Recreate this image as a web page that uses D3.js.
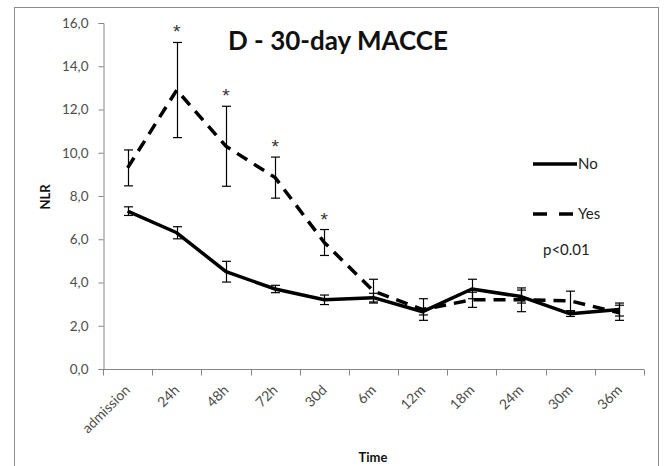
<!DOCTYPE html>
<html><head><meta charset="utf-8">
<script src="https://cdn.jsdelivr.net/npm/d3@7"></script>
<style>
html,body{margin:0;padding:0;background:#fff;}
svg{display:block;}
text{font-family:Lato,"Open Sans",sans-serif;}
</style></head>
<body>
<svg id="chart" width="664" height="466"></svg>
<script>
const categories = ["admission","24h","48h","72h","30d","6m","12m","18m","24m","30m","36m"];
const noMean = [7.3, 6.3, 4.5, 3.7, 3.2, 3.3, 2.65, 3.7, 3.35, 2.55, 2.75];
const noErr  = [0.2, 0.28, 0.48, 0.17, 0.22, 0.2, 0.15, 0.45, 0.3, 0.12, 0.3];
const yesMean = [9.3, 12.9, 10.3, 8.85, 5.85, 3.6, 2.75, 3.2, 3.2, 3.15, 2.6];
const yesErr  = [0.83, 2.2, 1.85, 0.95, 0.6, 0.55, 0.5, 0.35, 0.55, 0.45, 0.35];
const significant = ["24h","48h","72h","30d"];
const yTicks = [0,2,4,6,8,10,12,14,16];
const seriesNames = ["No","Yes"];

const svg = d3.select("#chart");
const L = 103, R = 644, T = 23, B = 369;

// outer frame
svg.append("rect").attr("x",14.5).attr("y",7.5).attr("width",644).attr("height",470)
  .attr("fill","none").attr("stroke","#8c8c8c").attr("stroke-width",1);

const x = d3.scaleBand().domain(categories).range([L,R]).padding(0);
const y = d3.scaleLinear().domain([0,16]).range([B,T]);
const cx = c => x(c) + x.bandwidth()/2;

// y axis
const yAxis = d3.axisLeft(y).tickValues(yTicks).tickSize(5).tickPadding(10)
  .tickFormat(d => d3.format(".1f")(d).replace(".", ","));
const gy = svg.append("g").attr("transform",`translate(${L+0.5},0)`).call(yAxis);
gy.select(".domain").attr("stroke","#868686");
gy.selectAll(".tick line").attr("stroke","#868686");
gy.selectAll(".tick text").attr("fill","#4d4d4d").style("font-size","13.5px")
  .style("font-family","Lato, 'Open Sans', sans-serif");

// x axis
const gx = svg.append("g").attr("transform",`translate(0,${B+0.5})`);
gx.append("line").attr("x1",L).attr("x2",R).attr("stroke","#868686");
const bounds = categories.map(c => x(c)).concat([R]);
gx.selectAll("line.tk").data(bounds).enter().append("line").attr("class","tk")
  .attr("x1",d=>Math.round(d)+0.5).attr("x2",d=>Math.round(d)+0.5).attr("y1",0).attr("y2",6)
  .attr("stroke","#868686");
gx.selectAll("text.lab").data(categories).enter().append("text").attr("class","lab")
  .attr("transform",d=>`translate(${cx(d)},${18}) rotate(-45)`)
  .attr("text-anchor","end").attr("dy","0.35em")
  .attr("fill","#4d4d4d").style("font-size","14px").text(d=>d);

// axis titles
svg.append("text").attr("x",373).attr("y",462).attr("text-anchor","middle")
  .style("font-size","13px").style("font-weight","bold").attr("fill","#111").text("Time");
svg.append("text").attr("transform","translate(50,197) rotate(-90)").attr("text-anchor","middle")
  .style("font-size","13px").style("font-weight","bold").attr("fill","#111").text("NLR");

// title
svg.append("text").attr("x",338).attr("y",50).attr("text-anchor","middle")
  .style("font-size","26px").style("font-weight","bold").attr("fill","#111").text("D - 30-day MACCE");

const line = d3.line().x((d,i)=>cx(categories[i])).y(d=>y(d));

// error bars
function errorBars(means, errs){
  const g = svg.append("g");
  categories.forEach((c,i)=>{
    const xx = Math.round(cx(c))+0.5;
    const top = y(means[i]+errs[i]), bot = y(means[i]-errs[i]);
    g.append("line").attr("x1",xx).attr("x2",xx).attr("y1",top).attr("y2",bot).attr("stroke","#000").attr("stroke-width",1.2);
    [top,bot].forEach(v=>g.append("line").attr("x1",xx-4.5).attr("x2",xx+4.5).attr("y1",v).attr("y2",v).attr("stroke","#000").attr("stroke-width",1.2));
  });
}

// Yes series (dashed)
svg.append("path").datum(yesMean).attr("d",line).attr("fill","none").attr("stroke","#000")
  .attr("stroke-width",3.5).attr("stroke-dasharray","12,8");
// No series (solid)
svg.append("path").datum(noMean).attr("d",line).attr("fill","none").attr("stroke","#000")
  .attr("stroke-width",3.5).attr("stroke-linejoin","round");
errorBars(yesMean, yesErr);
errorBars(noMean, noErr);

// asterisks
significant.forEach(c=>{
  const i = categories.indexOf(c);
  svg.append("text").attr("x",cx(c)).attr("y",y(yesMean[i]+yesErr[i]) - 4)
    .attr("text-anchor","middle").style("font-size","19px")
    .style("font-family","'Liberation Sans', Arial, sans-serif").attr("fill","#333").text("*");
});

// legend
const legY = [164, 214];
svg.append("line").attr("x1",533).attr("x2",577).attr("y1",legY[0]).attr("y2",legY[0])
  .attr("stroke","#000").attr("stroke-width",3.5);
svg.append("line").attr("x1",533).attr("x2",577).attr("y1",legY[1]).attr("y2",legY[1])
  .attr("stroke","#000").attr("stroke-width",3.5).attr("stroke-dasharray","14,12");
seriesNames.forEach((n,i)=>{
  svg.append("text").attr("x",578).attr("y",legY[i]).attr("dy","0.35em")
    .style("font-size","15px").attr("fill","#222").text(n);
});
svg.append("text").attr("x",543).attr("y",250).attr("dy","0.35em")
  .style("font-size","15px").attr("fill","#222").text("p<0.01");
</script>
</body></html>
